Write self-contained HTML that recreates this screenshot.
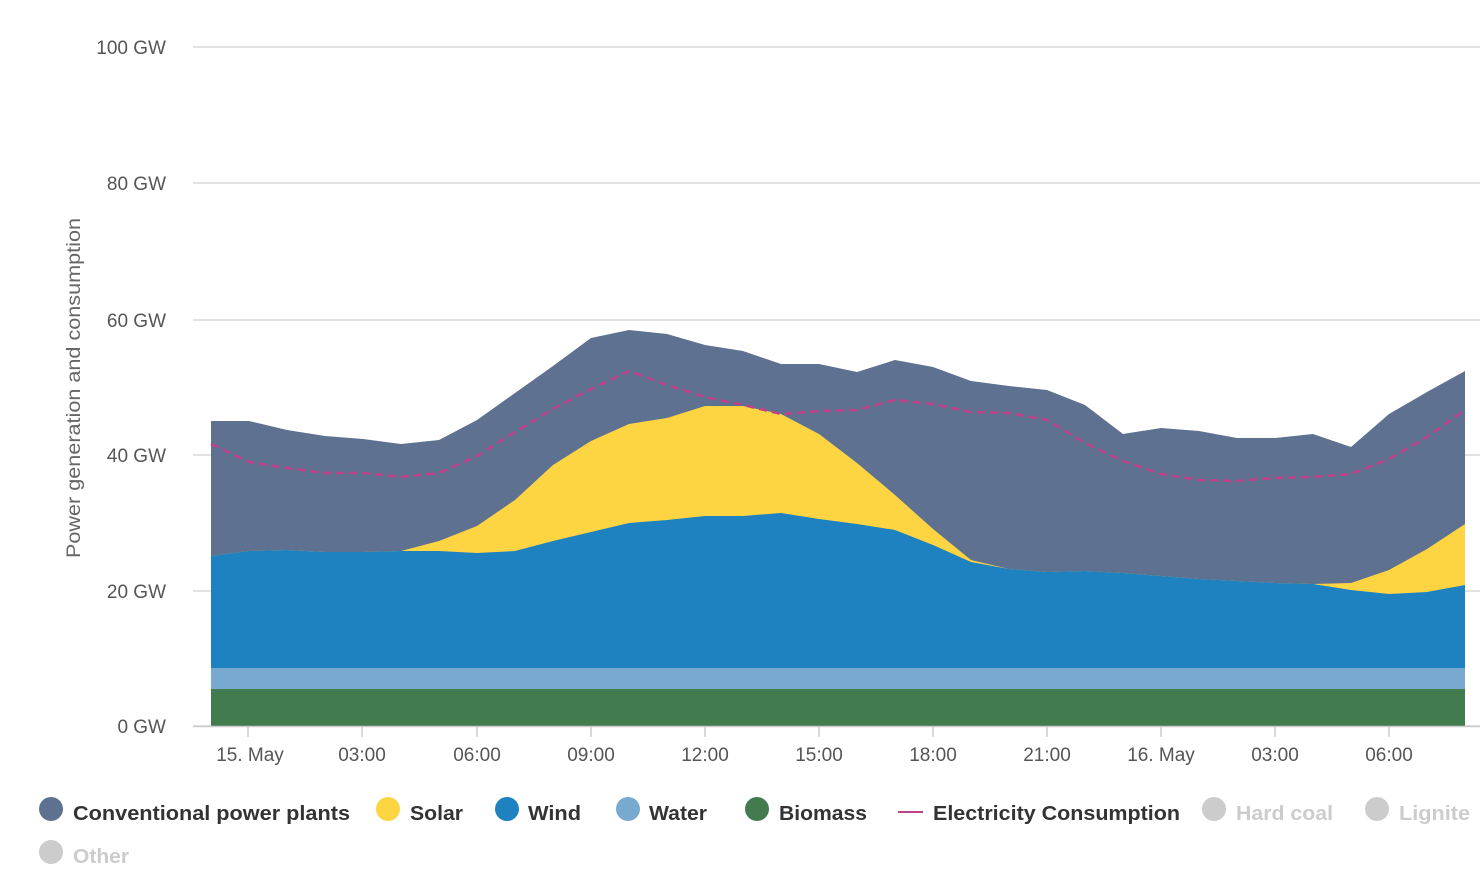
<!DOCTYPE html>
<html><head><meta charset="utf-8"><style>
body{margin:0;background:#fff;}
svg{display:block;font-family:"Liberation Sans",sans-serif;}
</style></head><body>
<svg width="1480" height="893" viewBox="0 0 1480 893" xmlns="http://www.w3.org/2000/svg">
<g stroke="#d8d8d8" stroke-width="1.5">
<line x1="193" y1="47" x2="1480" y2="47"/>
<line x1="193" y1="183" x2="1480" y2="183"/>
<line x1="193" y1="320" x2="1480" y2="320"/>
<line x1="193" y1="455" x2="1480" y2="455"/>
<line x1="193" y1="591" x2="1480" y2="591"/>
<line x1="193" y1="726" x2="1480" y2="726"/>
</g>
<g font-size="19" fill="#555" text-anchor="end">
<text x="166" y="54">100 GW</text>
<text x="166" y="190">80 GW</text>
<text x="166" y="327">60 GW</text>
<text x="166" y="462">40 GW</text>
<text x="166" y="598">20 GW</text>
<text x="166" y="733">0 GW</text>
</g>
<text transform="translate(80,388) rotate(-90)" font-size="19" fill="#666" text-anchor="middle" textLength="340" lengthAdjust="spacingAndGlyphs">Power generation and consumption</text>
<polygon fill="#5f7191" points="211,726 211,421 249,421 287,430 325,436 363,439 401,444 439,440 477,420 515,393 553,366 591,338 629,330 667,334 705,345 743,351 781,364 819,364 857,372 895,360 933,367 971,381 1009,386 1047,390 1085,405 1123,434 1161,428 1199,431 1237,438 1275,438 1313,434 1351,447 1389,414 1427,392 1465,371 1465,726"/>
<polygon fill="#fdd442" points="211,726 211,556 249,551 287,550 325,552 363,552 401,551 439,541 477,526 515,500 553,465 591,441 629,424 667,418 705,406 743,406 781,414 819,434 857,463 895,495 933,529 971,560 1009,569 1047,572 1085,571 1123,573 1161,576 1199,579 1237,581 1275,583 1313,584 1351,583 1389,570 1427,549 1465,524 1465,726"/>
<polygon fill="#1f82c0" points="211,726 211,556 249,551 287,550 325,552 363,552 401,551 439,551 477,553 515,551 553,541 591,532 629,523 667,520 705,516 743,516 781,513 819,519 857,524 895,530 933,545 971,562 1009,569 1047,572 1085,571 1123,573 1161,576 1199,579 1237,581 1275,583 1313,584 1351,590 1389,594 1427,592 1465,585 1465,726"/>
<rect x="211" y="668" width="1254" height="58" fill="#78a9cf"/>
<rect x="211" y="689" width="1254" height="37" fill="#427b4e"/>
<polyline fill="none" stroke="#c0408a" stroke-width="2.5" stroke-dasharray="8,5" points="211,444 249,462 287,468 325,473 363,473 401,477 439,473 477,456 515,432 553,409 591,389 629,371 667,385 705,397 743,405 781,414 819,411 857,410 895,400 933,404 971,412 1009,413 1047,420 1085,443 1123,461 1161,474 1199,480 1237,481 1275,478 1313,477 1351,474 1389,459 1427,437 1465,410"/>
<line x1="193" y1="726.5" x2="1480" y2="726.5" stroke="#ccc" stroke-width="1.5"/>
<g stroke="#ccc" stroke-width="1.5">
<line x1="248" y1="727" x2="248" y2="737"/><line x1="362" y1="727" x2="362" y2="737"/><line x1="477" y1="727" x2="477" y2="737"/><line x1="591" y1="727" x2="591" y2="737"/><line x1="705" y1="727" x2="705" y2="737"/><line x1="819" y1="727" x2="819" y2="737"/><line x1="933" y1="727" x2="933" y2="737"/><line x1="1047" y1="727" x2="1047" y2="737"/><line x1="1161" y1="727" x2="1161" y2="737"/><line x1="1275" y1="727" x2="1275" y2="737"/><line x1="1389" y1="727" x2="1389" y2="737"/>
</g>
<g font-size="19" fill="#555" text-anchor="middle">
<text x="250" y="761">15. May</text><text x="362" y="761">03:00</text><text x="477" y="761">06:00</text><text x="591" y="761">09:00</text><text x="705" y="761">12:00</text><text x="819" y="761">15:00</text><text x="933" y="761">18:00</text><text x="1047" y="761">21:00</text><text x="1161" y="761">16. May</text><text x="1275" y="761">03:00</text><text x="1389" y="761">06:00</text>
</g>
<g font-size="20" font-weight="bold" lengthAdjust="spacingAndGlyphs">
<circle cx="51" cy="809" r="12" fill="#5f7191"/><text x="73" y="820" fill="#333" textLength="277" lengthAdjust="spacingAndGlyphs">Conventional power plants</text>
<circle cx="388" cy="809" r="12" fill="#fdd442"/><text x="410" y="820" fill="#333" textLength="53" lengthAdjust="spacingAndGlyphs">Solar</text>
<circle cx="507" cy="809" r="12" fill="#1f82c0"/><text x="528" y="820" fill="#333" textLength="53" lengthAdjust="spacingAndGlyphs">Wind</text>
<circle cx="628" cy="809" r="12" fill="#78a9cf"/><text x="649" y="820" fill="#333" textLength="58" lengthAdjust="spacingAndGlyphs">Water</text>
<circle cx="757" cy="809" r="12" fill="#427b4e"/><text x="779" y="820" fill="#333" textLength="88" lengthAdjust="spacingAndGlyphs">Biomass</text>
<line x1="898" y1="812" x2="923" y2="812" stroke="#c0408a" stroke-width="2"/><text x="933" y="820" fill="#333" textLength="247" lengthAdjust="spacingAndGlyphs">Electricity Consumption</text>
<circle cx="1214" cy="809" r="12" fill="#ccc"/><text x="1236" y="820" fill="#ccc" textLength="97" lengthAdjust="spacingAndGlyphs">Hard coal</text>
<circle cx="1377" cy="809" r="12" fill="#ccc"/><text x="1399" y="820" fill="#ccc" textLength="71" lengthAdjust="spacingAndGlyphs">Lignite</text>
<circle cx="51" cy="852" r="12" fill="#ccc"/><text x="73" y="863" fill="#ccc" textLength="56" lengthAdjust="spacingAndGlyphs">Other</text>
</g>
</svg>
</body></html>
